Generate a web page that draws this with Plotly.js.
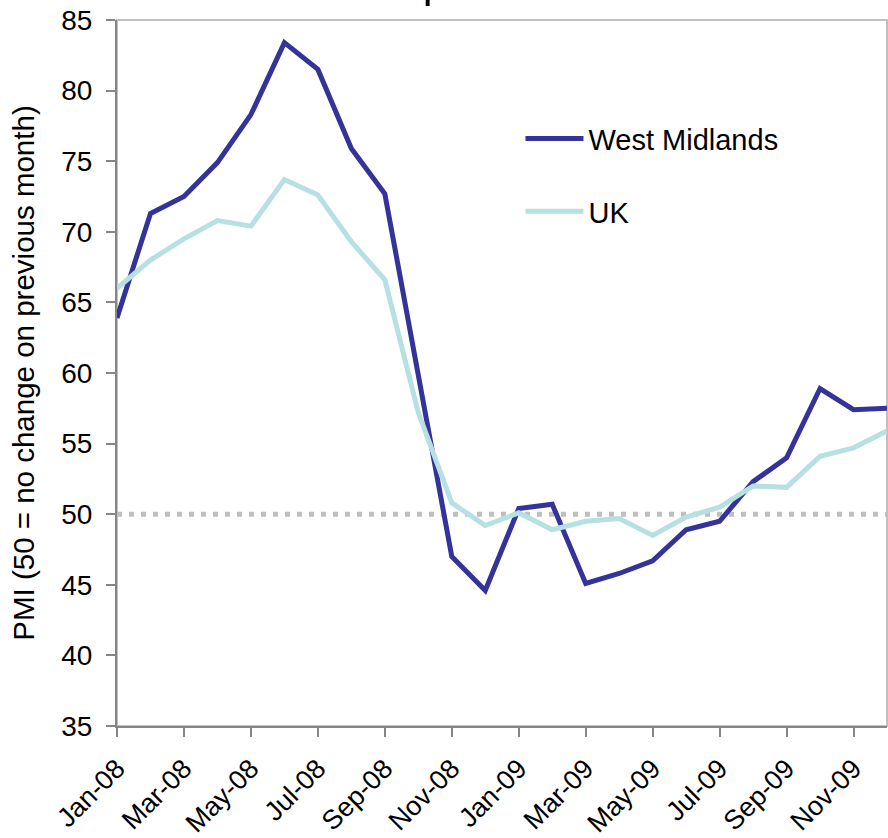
<!DOCTYPE html>
<html>
<head>
<meta charset="utf-8">
<script src="https://cdn.plot.ly/plotly-3.0.1.min.js"></script>
<style>
  html, body { margin: 0; padding: 0; background: #ffffff; }
  #chart { width: 888px; height: 838px; }
</style>
</head>
<body>
<div id="chart"></div>
<script>
// Monthly PMI readings, Jan 2008 – Dec 2009
const months = ['Jan-08','Feb-08','Mar-08','Apr-08','May-08','Jun-08','Jul-08','Aug-08','Sep-08','Oct-08','Nov-08','Dec-08',
                'Jan-09','Feb-09','Mar-09','Apr-09','May-09','Jun-09','Jul-09','Aug-09','Sep-09','Oct-09','Nov-09','Dec-09'];
const westMidlands = [63.9, 71.3, 72.5, 74.9, 78.3, 83.4, 81.5, 75.9, 72.7, 59.7, 47.0, 44.6,
                      50.4, 50.7, 45.1, 45.8, 46.7, 48.9, 49.5, 52.3, 54.0, 58.9, 57.4, 57.5];
const uk = [66.0, 68.0, 69.5, 70.8, 70.4, 73.7, 72.6, 69.3, 66.6, 57.2, 50.8, 49.2,
            50.1, 48.9, 49.5, 49.7, 48.5, 49.8, 50.5, 52.0, 51.9, 54.1, 54.7, 55.9];
const noChangeLevel = 50;

// every second month is labelled on the axis
const tickMonths = months.filter((m, i) => i % 2 === 0);

const FONT = 'Liberation Sans, Arial, Helvetica, sans-serif';

const traces = [
  {
    name: 'West Midlands', x: months, y: westMidlands, type: 'scatter', mode: 'lines',
    line: { color: '#333399', width: 5 }, legendgroup: 'wm', hoverinfo: 'skip'
  },
  {
    name: 'UK', x: months, y: uk, type: 'scatter', mode: 'lines',
    line: { color: '#B7E0E3', width: 5 }, legendgroup: 'uk', hoverinfo: 'skip'
  }
];

const layout = {
  width: 888, height: 838,
  margin: { l: 117, r: 1, t: 20, b: 112 },
  paper_bgcolor: '#ffffff', plot_bgcolor: '#ffffff',
  font: { family: FONT, size: 28, color: '#000000' },
  title: {
    text: '<b>Input Prices</b>',
    font: { family: FONT, size: 28, color: '#000000' },
    x: 0.5393, xanchor: 'center', xref: 'container',
    y: 1, yanchor: 'bottom', yref: 'container'
  },
  showlegend: true,
  legend: {
    x: 0.524, y: 0.868, xanchor: 'left', yanchor: 'top',
    bgcolor: 'rgba(0,0,0,0)', borderwidth: 0,
    font: { family: FONT, size: 29, color: '#000000' },
    itemwidth: 58, tracegroupgap: 32, traceorder: 'grouped'
  },
  xaxis: {
    type: 'category', range: [0, months.length - 1],
    tickmode: 'array', tickvals: tickMonths, ticktext: tickMonths,
    tickangle: -45, ticks: 'outside', ticklen: 9, tickwidth: 2, tickcolor: '#868686',
    showline: true, linecolor: '#868686', linewidth: 2,
    showgrid: false, zeroline: false,
    ticklabelstandoff: 5,
    tickfont: { family: FONT, size: 27, color: '#000000' }
  },
  yaxis: {
    range: [35, 85], dtick: 5, tick0: 35,
    ticks: 'outside', ticklen: 9, tickwidth: 2, tickcolor: '#868686',
    showline: true, linecolor: '#868686', linewidth: 2,
    showgrid: false, zeroline: false,
    ticklabelstandoff: 8,
    tickfont: { family: FONT, size: 28, color: '#000000' },
    title: { text: 'PMI (50 = no change on previous month)', standoff: 18,
             font: { family: FONT, size: 29.5, color: '#000000' } }
  },
  shapes: [
    // light frame round the plot area
    { type: 'rect', xref: 'paper', yref: 'paper', x0: 0, x1: 1, y0: 0, y1: 1,
      line: { color: '#C0C0C0', width: 2 }, layer: 'below' },
    // no-change reference at 50
    { type: 'line', xref: 'paper', yref: 'y', x0: 0, x1: 1, y0: noChangeLevel, y1: noChangeLevel,
      line: { color: '#BFBFBF', width: 5, dash: '5px,7px' }, layer: 'below' }
  ]
};

Plotly.newPlot('chart', traces, layout, { staticPlot: true, displayModeBar: false });
</script>
</body>
</html>
